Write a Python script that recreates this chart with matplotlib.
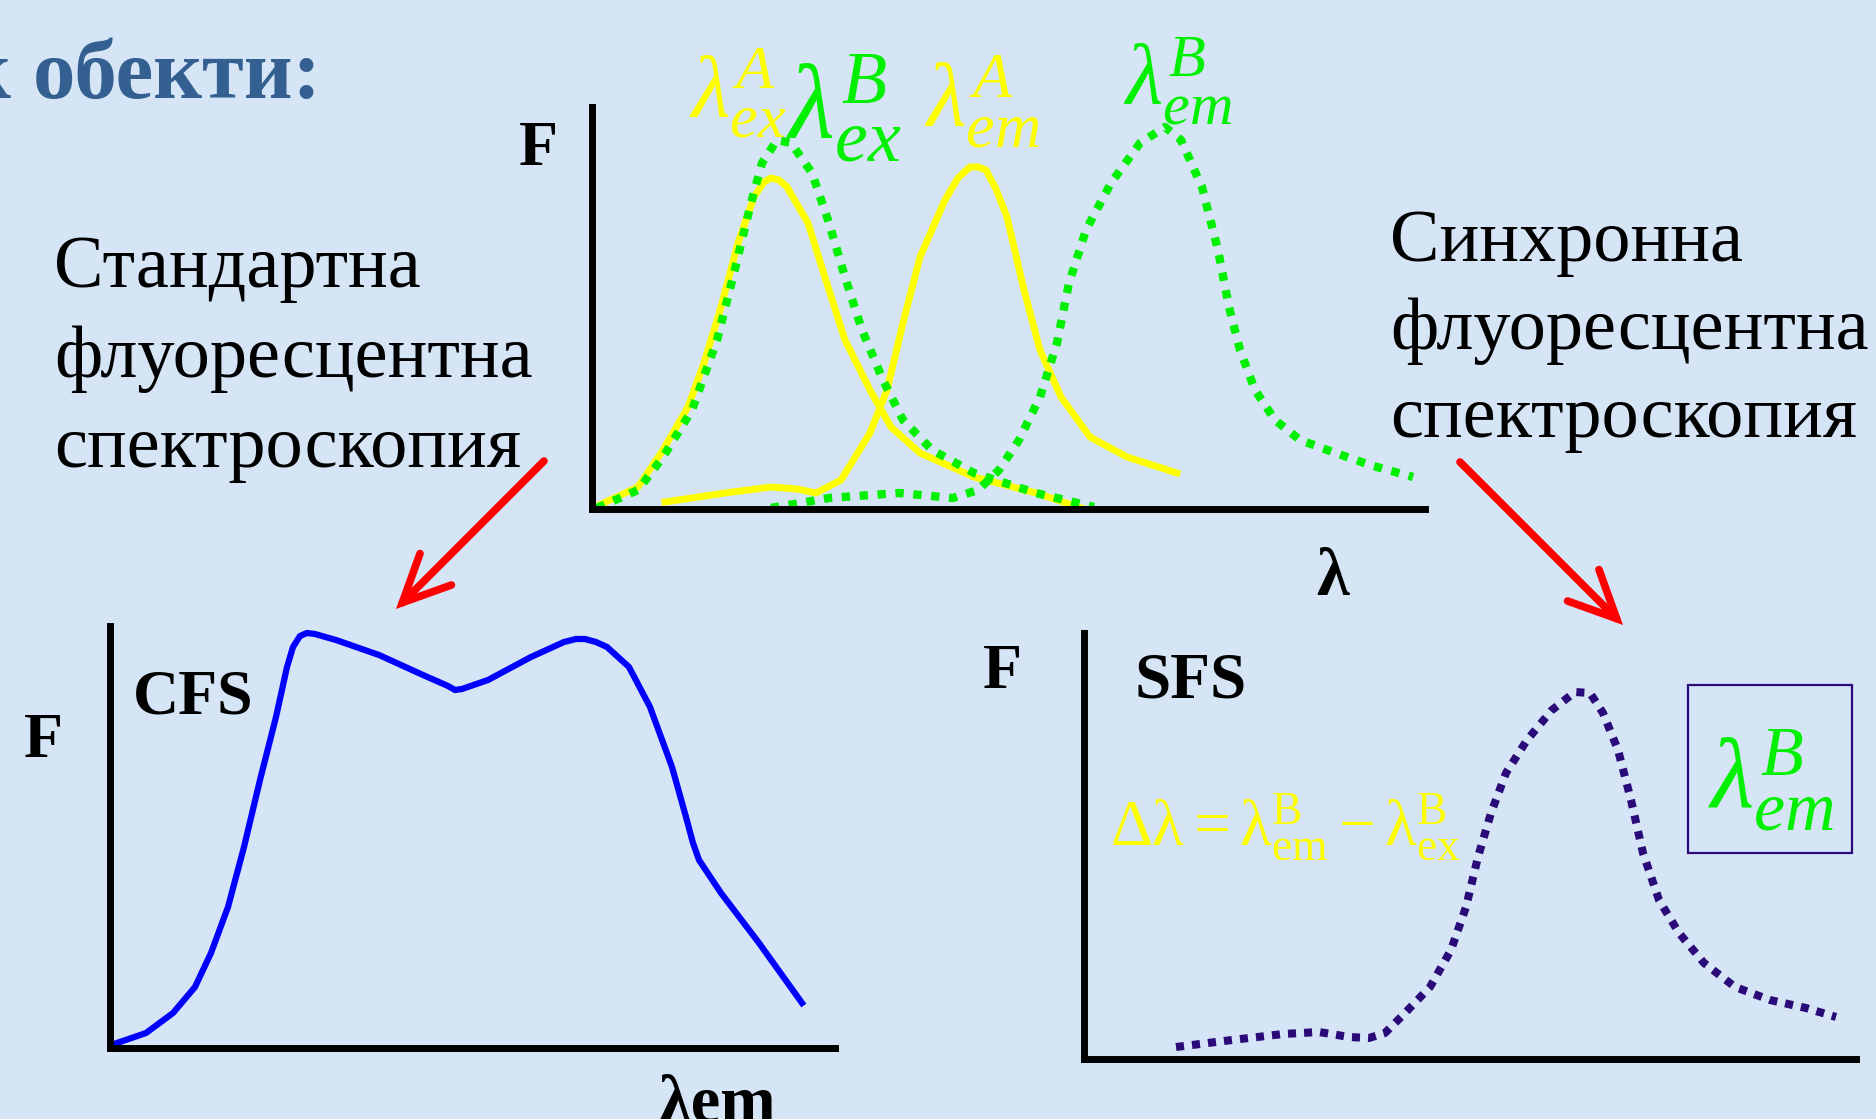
import matplotlib
matplotlib.use("Agg")
import matplotlib.pyplot as plt
from matplotlib.patches import FancyArrowPatch, Rectangle

W_PX, H_PX = 1876, 1119
DPI = 100
BG = "#D5E5F5"
YELLOW = "#FFFF00"
GREEN = "#00F000"
INDIGO = "#2A0A78"

# --- top panel: spectra of A and B (x, F in px from the axis origin) ---
ex_a_x = [3, 46, 71, 96, 112, 129, 146, 162, 172, 179, 187, 195, 216, 237, 253, 278, 299, 328, 382, 444, 492]
ex_a_f = [2, 22, 59, 102, 146, 202, 266, 312, 327, 331, 329, 322, 286, 219, 169, 119, 82, 56, 32, 16, 0]

ex_b_x = [5, 46, 71, 100, 125, 141, 158, 170, 185, 199, 220, 237, 253, 270, 291, 311, 340, 382, 444, 502]
ex_b_f = [1, 19, 52, 99, 169, 232, 302, 346, 369, 366, 336, 286, 232, 179, 129, 89, 59, 36, 16, 2]

em_a_x = [73, 133, 179, 205, 224, 249, 278, 295, 311, 328, 353, 366, 378, 386, 394, 404, 415, 432, 448, 469, 498, 535, 585]
em_a_f = [7, 16, 22, 20, 16, 29, 76, 119, 186, 252, 309, 331, 342, 342, 339, 320, 292, 219, 159, 112, 72, 52, 36]

em_b_x = [179, 237, 307, 361, 386, 407, 427, 448, 465, 477, 494, 519, 548, 573, 589, 610, 626, 637,
          648, 663, 683, 708, 741, 778, 821]
em_b_f = [1, 11, 16, 11, 19, 39, 69, 112, 166, 226, 279, 326, 366, 382, 369, 322, 259, 202,
          159, 119, 89, 69, 57, 44, 32]

# --- bottom left: conventional fluorescence spectrum (CFS) ---
cfs_x = [4, 36, 63, 85, 101, 118, 134, 150, 166, 177, 183, 190, 197, 205, 226, 269, 313, 338, 345, 352,
         378, 421, 454, 466, 475, 486, 497, 519, 540, 562, 576, 583, 589, 611, 649, 692]
cfs_f = [4, 15, 35, 61, 95, 141, 201, 268, 331, 381, 401, 412, 415, 414, 408, 393, 373, 362, 358, 359,
         368, 391, 406, 409, 409, 406, 401, 381, 341, 281, 231, 205, 188, 155, 105, 45]

# --- bottom right: synchronous fluorescence spectrum (SFS) ---
sfs_x = [92, 148, 199, 235, 265, 285, 301, 321, 346, 367, 382, 394, 407, 422, 443, 468, 491, 506,
         519, 534, 547, 559, 575, 595, 620, 651, 686, 722, 752]
sfs_f = [12, 19, 25, 27, 22, 21, 26, 46, 72, 109, 152, 202, 246, 286, 319, 349, 367, 366,
         346, 309, 259, 206, 159, 126, 96, 72, 59, 51, 42]

plt.rcParams["font.family"] = ["Liberation Serif", "DejaVu Serif"]
plt.rcParams["mathtext.fontset"] = "custom"
plt.rcParams["mathtext.rm"] = "Liberation Serif"
plt.rcParams["mathtext.it"] = "Liberation Serif:italic"
plt.rcParams["mathtext.bf"] = "Liberation Serif:bold"

fig = plt.figure(figsize=(W_PX / DPI, H_PX / DPI), dpi=DPI)
fig.patch.set_facecolor(BG)

# overlay in pixel coords for texts and arrows
ov = fig.add_axes([0, 0, 1, 1])
ov.set_xlim(0, W_PX)
ov.set_ylim(H_PX, 0)
ov.axis("off")


def panel(x0, y0, w, h):
    ax = fig.add_axes([x0 / W_PX, 1 - y0 / H_PX, w / W_PX, h / H_PX])
    ax.set_xlim(0, w)
    ax.set_ylim(0, h)
    ax.patch.set_alpha(0)
    for s in ("top", "right"):
        ax.spines[s].set_visible(False)
    for s in ("left", "bottom"):
        ax.spines[s].set_linewidth(5)
        ax.spines[s].set_capstyle("projecting")
    ax.set_xticks([])
    ax.set_yticks([])
    return ax


dot = (0, (1, 1.15))

top = panel(592, 509, 833, 402)
top.plot(ex_a_x, ex_a_f, color=YELLOW, lw=5, clip_on=False, solid_joinstyle="round")
top.plot(em_a_x, em_a_f, color=YELLOW, lw=5, clip_on=False, solid_joinstyle="round")
top.plot(ex_b_x, ex_b_f, color=GREEN, lw=6, ls=dot, dash_capstyle="butt", clip_on=False)
top.plot(em_b_x, em_b_f, color=GREEN, lw=6, ls=dot, dash_capstyle="butt", clip_on=False)

cfs = panel(110, 1048, 725, 422)
cfs.plot(cfs_x, cfs_f, color="#0000FF", lw=4.5, clip_on=False, solid_joinstyle="round")

sfs = panel(1084, 1059, 772, 426)
sfs.plot(sfs_x, sfs_f, color=INDIGO, lw=5.8, ls=(0, (1, 1)), dash_capstyle="butt", clip_on=False)

# title fragment (cut at the left edge, as in the slide)
ov.text(10, 98, "к", fontsize=61, fontweight="bold", color="#335F91", ha="right", va="baseline")
ov.text(33, 98, "обекти:", fontsize=61, fontweight="bold", color="#335F91", ha="left", va="baseline")

# side captions
for i, line in enumerate(["Стандартна", "флуоресцентна", "спектроскопия"]):
    ov.text(54, 287 + i * 90, line, fontsize=53.5, ha="left", va="baseline")
for i, line in enumerate(["Синхронна", "флуоресцентна", "спектроскопия"]):
    ov.text(1390, 261 + i * 88, line, fontsize=53.5, ha="left", va="baseline")

# axis labels
ov.text(538, 165, "F", fontsize=46, fontweight="bold", ha="center", va="baseline")
ov.text(1333, 595, "λ", fontsize=48, fontweight="bold", ha="center", va="baseline")
ov.text(43, 757, "F", fontsize=46, fontweight="bold", ha="center", va="baseline")
ov.text(133, 713, "CFS", fontsize=46, fontweight="bold", ha="left", va="baseline")
ov.text(658, 1121, "λem", fontsize=48, fontweight="bold", ha="left", va="baseline")
ov.text(1002, 688, "F", fontsize=46, fontweight="bold", ha="center", va="baseline")
ov.text(1135, 698, "SFS", fontsize=47, fontweight="bold", ha="left", va="baseline")

# peak labels
ov.text(689, 118, r"$\lambda^{A}_{ex}$", fontsize=64, color=YELLOW, ha="left", va="baseline")
ov.text(786, 138, r"$\lambda^{B}_{ex}$", fontsize=76, color=GREEN, ha="left", va="baseline")
ov.text(924, 127, r"$\lambda^{A}_{em}$", fontsize=66, color=YELLOW, ha="left", va="baseline")
ov.text(1123, 105, r"$\lambda^{B}_{em}$", fontsize=62, color=GREEN, ha="left", va="baseline")

ov.text(1110, 845, r"$\mathrm{\Delta\lambda = \lambda^{B}_{em} - \lambda^{B}_{ex}}$",
        fontsize=47, color=YELLOW, ha="left", va="baseline")

ov.add_patch(Rectangle((1688, 685), 164, 168, fill=False, edgecolor=INDIGO, lw=1.6))
ov.text(1708, 807, r"$\lambda^{B}_{em}$", fontsize=72, color=GREEN, ha="left", va="baseline")

# arrows
for (x1, y1), (x2, y2) in [((544, 461), (396, 609)), ((1460, 462), (1623, 625))]:
    ov.add_patch(FancyArrowPatch((x1, y1), (x2, y2), arrowstyle="->,head_length=0.85,head_width=0.4",
                                 mutation_scale=40, color="#FF0000", lw=5.5, shrinkA=0, shrinkB=0,
                                 capstyle="round", joinstyle="miter"))

fig.savefig("out.png", dpi=DPI, facecolor=BG)
